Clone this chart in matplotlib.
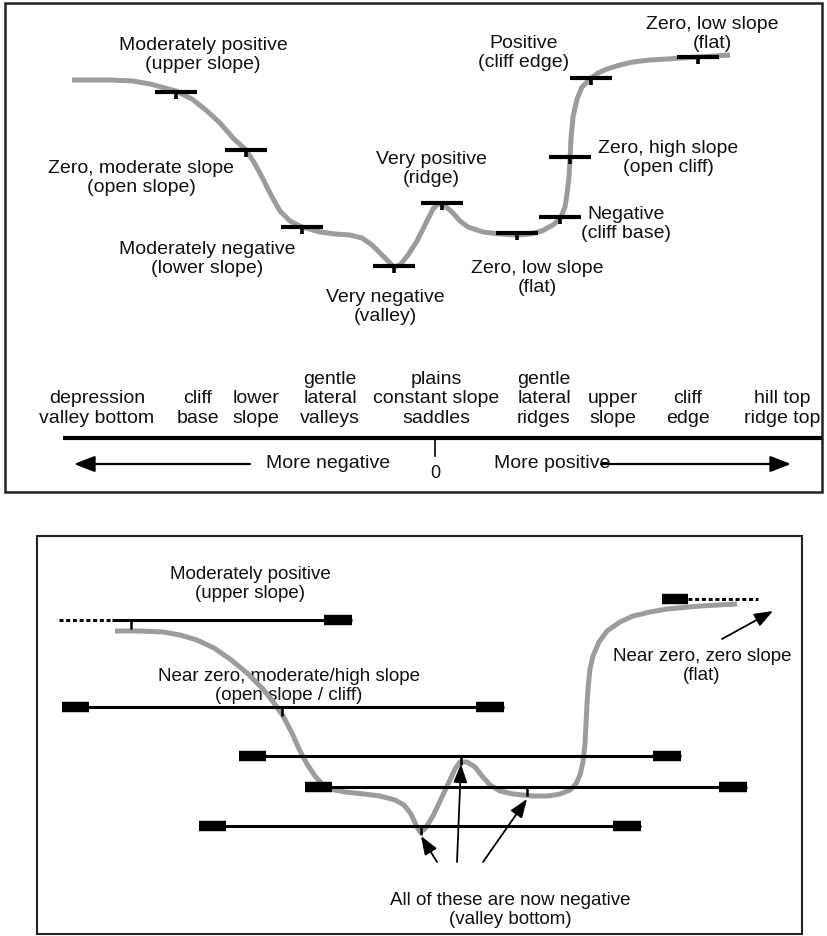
import matplotlib
matplotlib.use('Agg')
import matplotlib.pyplot as plt
from matplotlib.patches import Rectangle

plt.rcParams['font.family'] = ['Liberation Sans', 'DejaVu Sans']

# Profil oben (Pixelkoordinaten aus der Vorlage)
top_x = [72, 110, 133, 150, 165, 176, 192, 207, 220, 233, 246, 255, 263, 272, 280, 290, 302, 320, 335, 350,
         362, 372, 382, 390, 394, 400, 408, 417, 427, 433, 438, 444, 452, 460, 468, 483, 500, 517, 530, 542,
         553, 560, 565, 567, 569, 570, 571, 573, 577, 582, 590, 598, 607, 620, 633, 650, 667, 698, 730]
top_y = [81, 81, 82, 85, 89, 92, 100, 112, 124, 139, 151, 165, 180, 198, 212, 222, 228, 233, 235, 236,
         239, 246, 256, 264, 268, 266, 256, 242, 222, 210, 205, 206, 213, 222, 228, 233, 235, 236, 235, 232,
         226, 220, 208, 195, 178, 160, 140, 118, 100, 88, 80, 74, 70, 66, 63, 61, 60, 58, 56]

# Messfenster (Balken) am oberen Profil
win_x = [176, 246, 302, 394, 442, 517, 560, 570, 591, 698]
win_y = [93, 151, 228, 267, 204, 234, 218, 158, 79, 58]

top_labels = [
    ("Moderately positive\n(upper slope)", 203, 55),
    ("Zero, moderate slope\n(open slope)", 141, 178),
    ("Moderately negative\n(lower slope)", 207, 259),
    ("Very negative\n(valley)", 385, 307),
    ("Very positive\n(ridge)", 431, 169),
    ("Zero, low slope\n(flat)", 537, 278),
    ("Negative\n(cliff base)", 626, 224),
    ("Zero, high slope\n(open cliff)", 668, 158),
    ("Positive\n(cliff edge)", 524, 53),
    ("Zero, low slope\n(flat)", 712, 34),
]

# Skala der Landformen
scale_labels = ["depression\nvalley bottom", "cliff\nbase", "lower\nslope", "gentle\nlateral\nvalleys",
                "plains\nconstant slope\nsaddles", "gentle\nlateral\nridges", "upper\nslope", "cliff\nedge",
                "hill top\nridge top"]
scale_x = [97, 198, 256, 330, 436, 544, 613, 688, 782]

# Profil unten
bot_x = [115, 140, 163, 180, 197, 214, 230, 247, 263, 274, 283, 292, 299, 307, 315, 322, 330, 345, 364, 380,
         395, 404, 411, 416, 420, 425, 433, 441, 449, 455, 460, 467, 475, 482, 490, 500, 513, 533, 548, 560,
         570, 576, 580, 583, 585, 586, 587, 588, 590, 593, 599, 607, 620, 633, 650, 667, 700, 737]
bot_y = [632, 632, 633, 636, 641, 649, 660, 674, 690, 704, 717, 734, 750, 765, 777, 785, 790, 793, 795, 797,
         801, 806, 815, 826, 833, 830, 817, 800, 783, 770, 763, 763, 768, 777, 786, 792, 795, 797, 797, 795,
         791, 785, 776, 763, 745, 725, 705, 690, 670, 657, 643, 632, 623, 617, 613, 610, 607, 605]

# grosse Fenster unten
big_left = [112, 62, 239, 305, 199]
big_right = [352, 504, 681, 747, 641]
big_y = [621, 708, 757, 788, 827]
big_tick = [131, 282, 461, 527, 421]

fig = plt.figure(figsize=(8.27, 9.37), dpi=100)
ax = fig.add_axes([0, 0, 1, 1])
ax.set_xlim(0, 827)
ax.set_ylim(937, 0)
ax.axis('off')

txt = dict(ha='center', va='center', color='#111111')

# Rahmen
ax.add_patch(Rectangle((5, 4), 817, 489, fill=False, lw=1.8, ec='#222222'))
ax.add_patch(Rectangle((37, 537), 765, 398, fill=False, lw=1.5, ec='#222222'))

# oberes Profil
ax.plot(top_x, top_y, color='#9c9c9c', lw=3.6, solid_capstyle='butt', solid_joinstyle='round', zorder=2)
for x, y in zip(win_x, win_y):
    ax.plot([x - 21, x + 21], [y, y], color='black', lw=3.0, solid_capstyle='butt', zorder=3)
    ax.plot([x, x], [y, y + 7], color='black', lw=2.6, solid_capstyle='butt', zorder=3)
for s, x, y in top_labels:
    ax.text(x, y, s, fontsize=14, linespacing=1.1, **txt)

# Skala
for s, x in zip(scale_labels, scale_x):
    ax.text(x, 427, s, fontsize=14, linespacing=1.2, ha='center', va='bottom', color='#111111')
ax.plot([63, 822], [439, 439], color='black', lw=3, solid_capstyle='butt')
ax.plot([435, 435], [439, 457], color='black', lw=1.2)
ax.text(435, 474, "0", fontsize=13, **txt)
ax.text(328, 464, "More negative", fontsize=14, **txt)
ax.text(552, 464, "More positive", fontsize=14, **txt)
arrow = dict(arrowstyle='-|>,head_length=0.9,head_width=0.35', lw=1.6, color='black', mutation_scale=14,
             shrinkA=0, shrinkB=0)
ax.annotate("", xy=(74, 465), xytext=(250, 465), arrowprops=arrow)
ax.annotate("", xy=(791, 465), xytext=(601, 465), arrowprops=arrow)

# unteres Profil
ax.plot(bot_x, bot_y, color='#9c9c9c', lw=3.6, solid_capstyle='butt', solid_joinstyle='round', zorder=2)
for i, (l, r, y, t) in enumerate(zip(big_left, big_right, big_y, big_tick)):
    ax.plot([l, r], [y, y], color='black', lw=2.2, solid_capstyle='butt', zorder=3)
    ax.plot([r - 28, r], [y, y], color='black', lw=7.5, solid_capstyle='butt', zorder=3)
    if i == 0:
        ax.plot([59, l], [y, y], color='black', lw=2.2, dashes=(1.3, 0.9), zorder=3)
    else:
        ax.plot([l, l + 27], [y, y], color='black', lw=7.5, solid_capstyle='butt', zorder=3)
    ax.plot([t, t], [y, y + 9], color='black', lw=1.8, solid_capstyle='butt', zorder=3)

# flaches Stueck oben rechts
ax.plot([662, 688], [600, 600], color='black', lw=7.5, solid_capstyle='butt', zorder=3)
ax.plot([688, 758], [600, 600], color='black', lw=2.2, dashes=(1.3, 0.9), zorder=3)

ax.text(250, 584, "Moderately positive\n(upper slope)", fontsize=13.5, linespacing=1.1, **txt)
ax.text(289, 686, "Near zero, moderate/high slope\n(open slope / cliff)", fontsize=13.5, linespacing=1.1,
        zorder=1, **txt)
ax.text(702, 666, "Near zero, zero slope\n(flat)", fontsize=13.5, linespacing=1.1, **txt)
ax.text(510, 910, "All of these are now negative\n(valley bottom)", fontsize=13.5, linespacing=1.1, **txt)

small = dict(arrowstyle='-|>,head_length=0.8,head_width=0.3', lw=1.3, color='black', mutation_scale=14,
             shrinkA=0, shrinkB=0)
ax.annotate("", xy=(773, 612), xytext=(722, 640), arrowprops=small)
ax.annotate("", xy=(421, 837), xytext=(437, 863), arrowprops=small)
ax.annotate("", xy=(461, 765), xytext=(457, 863), arrowprops=small)
ax.annotate("", xy=(527, 800), xytext=(483, 863), arrowprops=small)

fig.savefig('out.png', dpi=100)
